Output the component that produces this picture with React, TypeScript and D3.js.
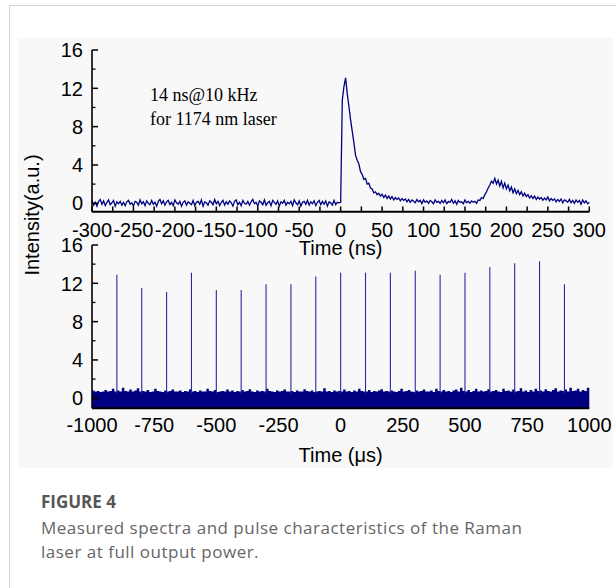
import React from 'react';
import * as d3 from 'd3';

// top panel: pulse shape, one sample every 2 ns from -300 ns
const topStart = -300;
const topStep = 2;
const topValues = [
  0.3, -0.2, 0.1, -0.3, 0.2, 0.4, -0.1, 0.25, -0.25, 0.1, 0.35, -0.15, 0.05, 0.3, -0.3, 0.15, -0.05, 0.2, -0.2, 0.1,
  -0.25, 0.15, 0.3, -0.1, 0.05, -0.3, 0.2, 0.1, -0.2, 0.35, -0.05, 0.15, -0.25, 0.25, 0.0, -0.15, 0.3, -0.1, 0.1, -0.3,
  0.2, 0.4, -0.05, 0.25, -0.2, 0.15, 0.3, -0.15, 0.1, -0.25, 0.35, 0.05, -0.1, 0.2, -0.3, 0.1, 0.25, -0.2, 0.15, 0.0,
  -0.15, 0.3, -0.25, 0.1, 0.2, -0.1, 0.35, -0.3, 0.15, 0.05, -0.2, 0.25, 0.1, -0.15, 0.4, -0.05, 0.2, -0.25, 0.1, 0.3,
  -0.2, 0.15, -0.1, 0.25, 0.05, -0.3, 0.2, 0.35, -0.15, 0.1, -0.25, 0.3, 0.0, -0.1, 0.2, -0.2, 0.15, 0.4, -0.05, 0.1,
  -0.3, 0.25, 0.1, -0.15, 0.35, -0.2, 0.05, 0.2, -0.25, 0.3, 0.1, -0.1, 0.25, -0.3, 0.15, 0.0, 0.3, -0.2, 0.1, -0.05,
  0.2, -0.25, 0.35, 0.05, -0.15, 0.25, -0.3, 0.1, 0.2, -0.1, 0.3, -0.2, 0.15, -0.05, 0.25, -0.25, 0.1, 0.3, -0.15, 0.2,
  -0.1, 0.25, -0.3, 0.15, 0.05, -0.2, 0.3, -0.15, 0.1, 0.05,
  0.1, 10.8, 12.2, 13.1, 11.4, 10.1, 8.7, 7.5, 6.3, 5.0, 4.5, 4.1, 3.3, 3.0, 2.5, 2.6, 2.0, 2.1, 1.6, 1.5, 1.1,
  1.2, 0.9, 1.05, 0.75, 0.95, 0.6, 0.85, 0.5, 0.75, 0.45, 0.7, 0.35, 0.6, 0.4, 0.55, 0.25, 0.5, 0.3, 0.45, 0.15,
  0.4, 0.1, 0.35, 0.2, 0.05, 0.4, 0.15, 0.3, -0.05, 0.35, 0.1, 0.25, 0.0, 0.3, 0.15, -0.05, 0.35, 0.1, 0.2, 0.0,
  0.3, 0.05, 0.35, -0.05, 0.2, 0.1, 0.4, 0.0, 0.25, -0.1, 0.3, 0.1, 0.15, -0.05, 0.35, 0.05, 0.2, 0.0, 0.25, 0.1,
  0.2, 0.0, 0.35, 0.3, 0.6, 0.5, 0.9, 1.2, 1.6, 1.9, 2.3, 2.1, 2.6, 2.0, 2.4, 1.8, 2.3, 1.6, 2.1, 1.5,
  1.9, 1.3, 1.7, 1.1, 1.5, 1.0, 1.35, 0.9, 1.2, 0.75, 1.05, 0.7, 0.9, 0.55, 0.8, 0.5, 0.75, 0.4, 0.65, 0.45,
  0.6, 0.3, 0.55, 0.35, 0.65, 0.25, 0.5, 0.3, 0.45, 0.15, 0.4, 0.2, 0.45, 0.05, 0.35, 0.25, 0.1, 0.4, 0.05, 0.3,
  0.0, 0.35, 0.1, 0.3, -0.1, 0.35, 0.05, 0.25, -0.05, 0.1,
];

// bottom panel: noise floor top edge, one sample every 10 us from -1000 us
const bandStart = -1000;
const bandStep = 10;
const bandValues = [
  0.8, 0.7, 0.75, 0.65, 0.7, 0.85, 0.7, 0.75, 1.0, 0.7, 0.8, 0.7, 1.1, 0.75, 0.7, 0.9, 0.7, 0.8, 1.05, 0.7,
  0.75, 0.7, 0.85, 0.65, 0.7, 1.0, 0.75, 0.7, 0.65, 0.8, 0.7, 0.75, 0.9, 0.7, 0.7, 0.8, 0.65, 0.75, 0.7, 0.95,
  0.7, 0.75, 0.65, 0.8, 0.7, 0.7, 1.0, 0.75, 0.7, 0.85, 0.65, 0.7, 0.75, 0.7, 0.9, 0.7, 0.8, 0.65, 0.75, 0.7,
  0.85, 0.7, 0.75, 0.95, 0.7, 0.65, 0.8, 0.7, 0.75, 0.7, 1.0, 0.75, 0.7, 0.65, 0.8, 0.7, 0.75, 0.9, 0.7, 0.7,
  0.75, 0.65, 0.8, 0.7, 0.7, 0.95, 0.75, 0.7, 0.8, 0.65, 0.7, 0.75, 0.7, 1.05, 0.7, 0.75, 0.65, 0.8, 0.7, 0.75,
  0.7, 0.9, 0.7, 0.75, 0.65, 0.8, 0.7, 1.0, 0.75, 0.7, 0.7, 0.85, 0.65, 0.75, 0.7, 0.8, 0.95, 0.7, 0.75, 0.7,
  0.8, 0.7, 0.65, 0.75, 1.0, 0.7, 0.75, 0.85, 0.7, 0.65, 0.8, 0.7, 0.75, 0.9, 0.7, 0.7, 0.8, 0.65, 1.0, 0.75,
  0.7, 0.85, 0.7, 0.75, 0.65, 0.8, 0.9, 0.7, 1.1, 0.75, 0.7, 0.85, 0.65, 0.75, 1.0, 0.7, 0.8, 0.7, 0.75, 0.95,
  0.7, 0.75, 0.85, 0.7, 0.65, 1.0, 0.75, 0.8, 0.7, 0.9, 0.7, 0.75, 1.05, 0.7, 0.8, 0.65, 0.85, 0.7, 1.0, 0.75,
  0.8, 0.7, 0.95, 0.75, 0.7, 0.85, 1.05, 0.7, 0.8, 0.75, 0.9, 0.7, 1.1, 0.75, 0.8, 1.0, 0.7, 0.85, 0.75, 1.1,
  0.7,
];

// pulse train peaks
const spikeTimes = [-900, -800, -700, -600, -500, -400, -300, -200, -100, 0, 100, 200, 300, 400, 500, 600, 700, 800, 900];
const spikeHeights = [12.9, 11.5, 11.1, 13.1, 11.3, 11.3, 11.9, 11.9, 12.7, 13.1, 13.1, 13.1, 13.3, 12.9, 13.1, 13.7, 14.1, 14.3, 11.9];

const topTicks = [-300, -250, -200, -150, -100, -50, 0, 50, 100, 150, 200, 250, 300];
const topMinor = d3.range(-300, 301, 25);
const bottomTicks = [-1000, -750, -500, -250, 0, 250, 500, 750, 1000];
const yTicks = [0, 4, 8, 12, 16];
const yMinor = [2, 6, 10, 14];

const NAVY = '#000080';
const sans = '"Liberation Sans", Arial, sans-serif';
const serif = '"Liberation Serif", "Times New Roman", serif';
const caption = '"Open Sans", sans-serif';

export default () => {
  const width = 616;
  const height = 588;
  const left = 92;
  const right = 589.3;

  const xTop = d3.scaleLinear().domain([-300, 300]).range([left, right]);
  const yTop = d3.scaleLinear().domain([-0.88, 16]).range([211.7, 50]);
  const xBot = d3.scaleLinear().domain([-1000, 1000]).range([left, right]);
  const yBot = d3.scaleLinear().domain([-1.05, 16]).range([408.3, 245]);

  const topLine = d3.line<number>()
    .x((d, i) => xTop(topStart + i * topStep))
    .y((d) => yTop(d));

  const band = d3.area<number>()
    .x((d, i) => xBot(bandStart + i * bandStep))
    .y0(yBot(-1.05))
    .y1((d) => yBot(d))
    .curve(d3.curveStepAfter);

  const yAxis = (y: d3.ScaleLinear<number, number>, key: string) => (
    <g key={key}>
      <line x1={left} x2={left} y1={y(16)} y2={y.range()[0]} stroke="#000" strokeWidth={1.6} />
      {yTicks.map((t) => (
        <g key={t}>
          <line x1={left} x2={left + 6} y1={y(t)} y2={y(t)} stroke="#000" strokeWidth={1.5} />
          <text x={left - 9} y={y(t)} dy="0.36em" textAnchor="end" fontSize={20} fontFamily={sans}>{t}</text>
        </g>
      ))}
      {yMinor.map((t) => (
        <line key={t} x1={left} x2={left + 3.5} y1={y(t)} y2={y(t)} stroke="#000" strokeWidth={1.3} />
      ))}
    </g>
  );

  return (
    <svg width={width} height={height} style={{ position: 'absolute', left: 0, top: 0, background: '#fff' }}>
      <line x1={9.5} x2={9.5} y1={5.5} y2={height} stroke="#d4d4d4" />
      <line x1={9.5} x2={width} y1={5.5} y2={5.5} stroke="#d4d4d4" />
      <rect x={18} y={38} width={595} height={430} fill="#f8f8f8" />

      {/* top panel */}
      <path d={topLine(topValues) || ''} fill="none" stroke={NAVY} strokeWidth={1.3} />
      {yAxis(yTop, 'yt')}
      <line x1={left} x2={right} y1={211.7} y2={211.7} stroke="#000" strokeWidth={2} />
      {topMinor.map((t) => (
        <line key={t} x1={xTop(t)} x2={xTop(t)} y1={211.7} y2={206.5} stroke="#000" strokeWidth={1.5} />
      ))}
      {topTicks.map((t) => (
        <text key={t} x={xTop(t)} y={237} textAnchor="middle" fontSize={20} fontFamily={sans}>{t}</text>
      ))}
      <text x={xTop(0)} y={255} textAnchor="middle" fontSize={20} fontFamily={sans}>Time (ns)</text>
      <text x={150} y={101} fontSize={18} fontFamily={serif}>14 ns@10 kHz</text>
      <text x={150} y={125} fontSize={18} fontFamily={serif}>for 1174 nm laser</text>

      {/* bottom panel */}
      <path d={band(bandValues) || ''} fill={NAVY} />
      {spikeTimes.map((t, i) => (
        <line key={t} x1={xBot(t)} x2={xBot(t)} y1={yBot(0.5)} y2={yBot(spikeHeights[i])} stroke="#2a2aa0" strokeWidth={1.1} />
      ))}
      {yAxis(yBot, 'yb')}
      <line x1={left} x2={right} y1={408.3} y2={408.3} stroke="#000" strokeWidth={2} />
      {bottomTicks.map((t) => (
        <text key={t} x={xBot(t)} y={432} textAnchor="middle" fontSize={20} fontFamily={sans}>{t}</text>
      ))}
      <text x={xBot(0)} y={462} textAnchor="middle" fontSize={20} fontFamily={sans}>Time (μs)</text>

      <text transform="translate(39,215) rotate(-90)" textAnchor="middle" fontSize={20} fontFamily={sans}>Intensity(a.u.)</text>

      {/* caption */}
      <text x={41} y={508} fontSize={17} fontWeight="bold" fill="#555" fontFamily={caption}>FIGURE 4</text>
      <text x={41} y={534} fontSize={17} letterSpacing={0.5} fill="#666" fontFamily={caption}>Measured spectra and pulse characteristics of the Raman</text>
      <text x={41} y={558} fontSize={17} letterSpacing={0.5} fill="#666" fontFamily={caption}>laser at full output power.</text>
    </svg>
  );
};
